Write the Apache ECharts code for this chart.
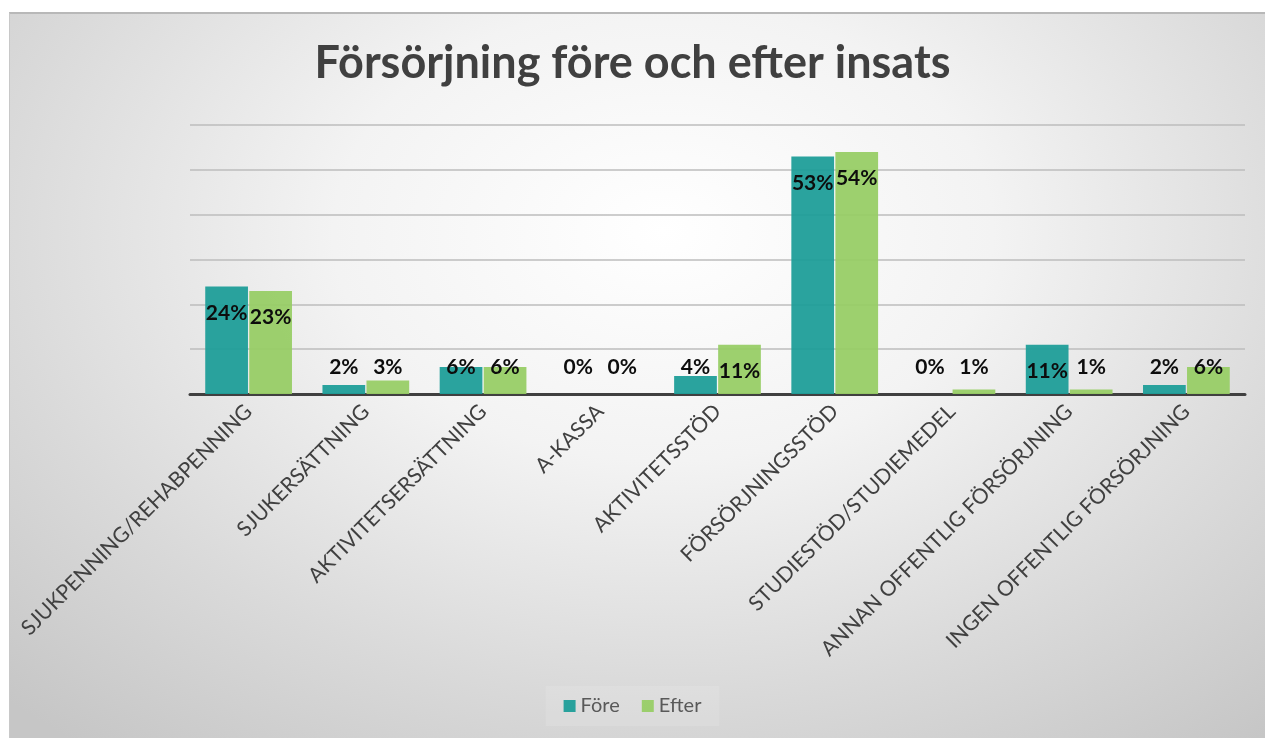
<!DOCTYPE html>
<html>
<head>
<meta charset="utf-8">
<script src="https://cdn.jsdelivr.net/npm/echarts@6/dist/echarts.min.js"></script>
<style>
  html, body { margin: 0; padding: 0; background: #ffffff; }
  #box {
    position: absolute; left: 9px; top: 12px; width: 1256px; height: 726px;
    border-top: 2px solid #b8b8b8; border-left: 1px solid #c8c8c8;
    background: radial-gradient(ellipse 75% 90% at 52% 30%, #ffffff 0%, #f3f3f3 35%, #dadada 70%, #c6c6c6 100%);
  }
  #main { position: absolute; left: 0; top: 0; width: 1265px; height: 738px; }
</style>
</head>
<body>
<div id="box"></div>
<div id="main"></div>
<script>
let categories = ['SJUKPENNING/REHABPENNING', 'SJUKERSÄTTNING', 'AKTIVITETSERSÄTTNING', 'A-KASSA',
    'AKTIVITETSSTÖD', 'FÖRSÖRJNINGSSTÖD', 'STUDIESTÖD/STUDIEMEDEL', 'ANNAN OFFENTLIG FÖRSÖRJNING',
    'INGEN OFFENTLIG FÖRSÖRJNING']
let fore = [24, 2, 6, 0, 4, 53, 0, 11, 2]
let efter = [23, 3, 6, 0, 11, 54, 1, 1, 6]
let seriesNames = ['Före', 'Efter']

// labels sit inside the top of tall bars, small bars get them just above the axis
function withLabels(values) {
    return values.map(function (v) {
        return {
            value: v,
            label: v >= 11
                ? {position: 'insideTop', distance: 16}
                : {position: 'insideBottom', distance: 16}
        }
    })
}

let chart = echarts.init(document.getElementById('main'))
let labelStyle = {
    show: true,
    formatter: '{c}%',
    fontFamily: 'Lato',
    fontWeight: 'bold',
    fontSize: 21,
    color: '#0d0d0d'
}
let option = {
    backgroundColor: 'transparent',
    title: {
        text: 'Försörjning före och efter insats',
        left: 'center',
        top: 36,
        textStyle: {fontFamily: 'Lato', fontWeight: 'bold', fontSize: 45, color: '#404040'}
    },
    legend: {
        data: seriesNames,
        bottom: 12,
        left: 'center',
        itemWidth: 12,
        itemHeight: 12,
        itemGap: 22,
        padding: [10, 18],
        backgroundColor: 'rgba(255,255,255,0.12)',
        textStyle: {fontFamily: 'Lato', fontSize: 20, color: '#595959'},
        icon: 'rect'
    },
    grid: {left: 190, right: 20, top: 125, bottom: 344},
    xAxis: {
        type: 'category',
        data: categories,
        axisLine: {lineStyle: {color: '#404040', width: 3}},
        axisTick: {show: false},
        axisLabel: {
            interval: 0,
            rotate: 45,
            margin: 14,
            fontFamily: 'Lato',
            fontSize: 21,
            color: '#404040'
        }
    },
    yAxis: {
        type: 'value',
        min: 0,
        max: 60,
        interval: 10,
        axisLabel: {show: false},
        axisLine: {show: false},
        axisTick: {show: false},
        splitLine: {lineStyle: {color: '#bdbdbd', width: 1.5}}
    },
    series: [
        {
            name: seriesNames[0],
            type: 'bar',
            data: withLabels(fore),
            barGap: '3%',
            barCategoryGap: '26%',
            itemStyle: {color: 'rgba(31,158,153,0.95)'},
            label: labelStyle
        },
        {
            name: seriesNames[1],
            type: 'bar',
            data: withLabels(efter),
            itemStyle: {color: 'rgba(152,206,102,0.95)'},
            label: labelStyle
        }
    ]
}
chart.setOption(option)
</script>
</body>
</html>
